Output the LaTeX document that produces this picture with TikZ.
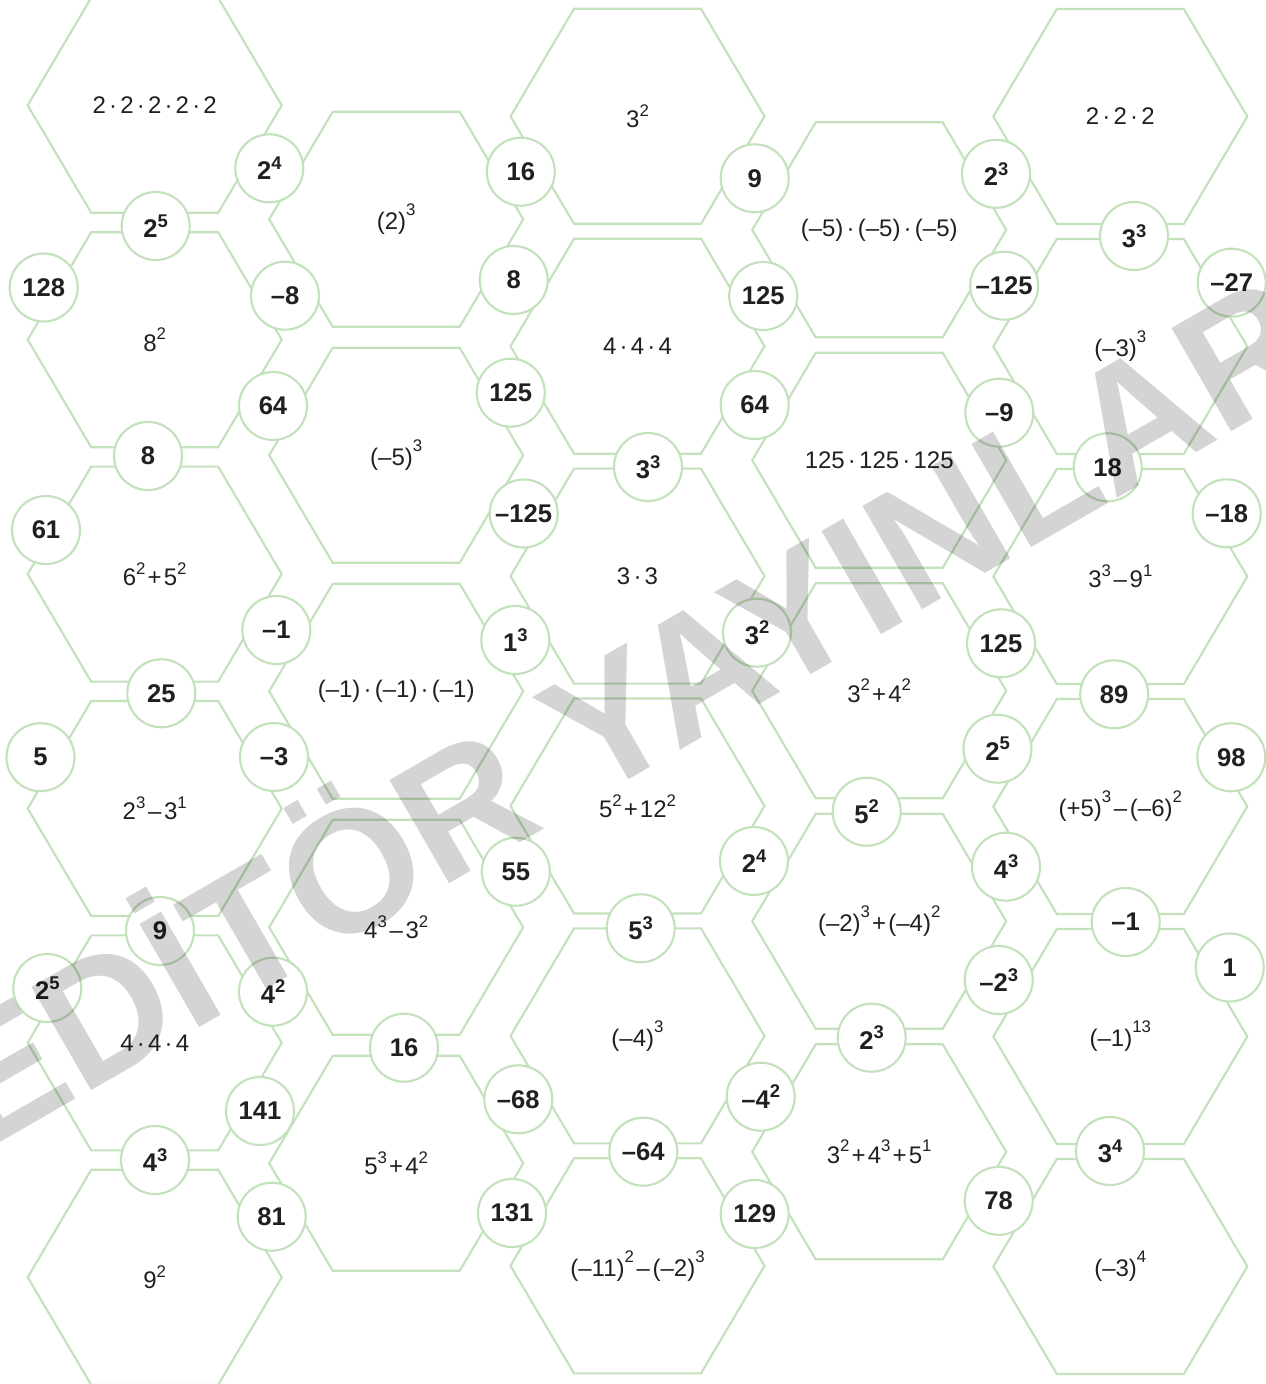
\documentclass[tikz,border=0pt]{standalone}
\usepackage{fontspec}
\setmainfont{Liberation Sans}
\definecolor{hexgreen}{RGB}{196,225,189}
\definecolor{ink}{RGB}{35,31,32}
\newcommand\cs[1]{\raisebox{7.8pt}{\fontsize{13.8}{14}\selectfont\bfseries #1}}
\newcommand\hs[1]{\raisebox{8.4pt}{\fontsize{12.6}{13}\selectfont #1}}
\newcommand\hp[1]{\raisebox{10.4pt}{\fontsize{12.6}{13}\selectfont #1}}
\newcommand\md{\hspace{2.4pt}·\hspace{2.4pt}}
\newcommand\mi{\hspace{2pt}–\hspace{2pt}}
\newcommand\pl{\hspace{1.6pt}+\hspace{1.6pt}}
\newcommand\hexcell[4]{%
  \draw[hexline] (#2-127,#3) -- ++(63.5,-107.5) -- ++(127,0) -- ++(63.5,107.5) -- ++(-63.5,107.5) -- ++(-127,0) -- cycle;
  \node[hexlabel] (#1) at (#2,#3) {#4};}
\begin{document}
\begin{tikzpicture}[x=0.75pt,y=-0.75pt,
  hexline/.style={draw=hexgreen,line width=1.6pt,line join=miter},
  hexlabel/.style={font=\fontsize{18}{20}\selectfont,text=ink,inner sep=0pt},
  numcirc/.style={circle,draw=hexgreen,line width=1.6pt,fill=white,minimum size=51pt,inner sep=0pt,font=\fontsize{19.2}{20}\selectfont\bfseries,text=ink},
  watermark/.style={rotate=30,anchor=base west,inner sep=0pt,text=black,text opacity=0.17,font=\fontsize{130}{130}\selectfont\bfseries}]
\useasboundingbox (0,0) rectangle (1266,1384);
\clip (0,0) rectangle (1266,1384);
\fill[white] (0,0) rectangle (1266,1384);
% column 1
\hexcell{h11}{154.7}{105.3}{2\md2\md2\md2\md2}
\hexcell{h12}{154.7}{339.7}{8\hs{2}}
\hexcell{h13}{154.7}{574.1}{6\hs{2}\pl5\hs{2}}
\hexcell{h14}{154.7}{808.5}{2\hs{3}\mi3\hs{1}}
\hexcell{h15}{154.7}{1042.9}{4\md4\md4}
\hexcell{h16}{154.7}{1277.3}{9\hs{2}}
% column 2
\hexcell{h21}{396.2}{219.3}{(2)\hp{3}}
\hexcell{h22}{396.2}{455.3}{(–5)\hp{3}}
\hexcell{h23}{396.2}{691.3}{(–1)\md(–1)\md(–1)}
\hexcell{h24}{396.2}{927.3}{4\hs{3}\mi3\hs{2}}
\hexcell{h25}{396.2}{1163.3}{5\hs{3}\pl4\hs{2}}
% column 3
\hexcell{h31}{637.5}{116.3}{3\hs{2}}
\hexcell{h32}{637.5}{346.2}{4\md4\md4}
\hexcell{h33}{637.5}{576.1}{3\md3}
\hexcell{h34}{637.5}{806.0}{5\hs{2}\pl12\hs{2}}
\hexcell{h35}{637.5}{1035.9}{(–4)\hp{3}}
\hexcell{h36}{637.5}{1265.8}{(–11)\hp{2}\mi(–2)\hp{3}}
% column 4
\hexcell{h41}{879.2}{229.8}{(–5)\md(–5)\md(–5)}
\hexcell{h42}{879.2}{460.3}{125\md125\md125}
\hexcell{h43}{879.2}{690.8}{3\hs{2}\pl4\hs{2}}
\hexcell{h44}{879.2}{921.3}{(–2)\hp{3}\pl(–4)\hp{2}}
\hexcell{h45}{879.2}{1151.8}{3\hs{2}\pl4\hs{3}\pl5\hs{1}}
% column 5
\hexcell{h51}{1120.3}{116.5}{2\md2\md2}
\hexcell{h52}{1120.3}{346.5}{(–3)\hp{3}}
\hexcell{h53}{1120.3}{576.5}{3\hs{3}\mi9\hs{1}}
\hexcell{h54}{1120.3}{806.5}{(+5)\hp{3}\mi(–6)\hp{2}}
\hexcell{h55}{1120.3}{1036.5}{(–1)\hp{13}}
\hexcell{h56}{1120.3}{1266.5}{(–3)\hp{4}}
% circles
\node[numcirc] (c1) at (269.3,168.3) {2\cs{4}};
\node[numcirc] (c2) at (155.7,226) {2\cs{5}};
\node[numcirc] (c3) at (43.7,287.5) {128};
\node[numcirc] (c4) at (285,295.7) {–8};
\node[numcirc] (c5) at (520.8,171.7) {16};
\node[numcirc] (c6) at (513.7,280) {8};
\node[numcirc] (c7) at (510.8,392.7) {125};
\node[numcirc] (c8) at (754.7,178.3) {9};
\node[numcirc] (c9) at (996,173.8) {2\cs{3}};
\node[numcirc] (c10) at (763.2,296) {125};
\node[numcirc] (c11) at (1004.2,285.7) {–125};
\node[numcirc] (c12) at (1134,236) {3\cs{3}};
\node[numcirc] (c13) at (1231.7,282.7) {–27};
\node[numcirc] (c14) at (273,406) {64};
\node[numcirc] (c15) at (754.7,405) {64};
\node[numcirc] (c16) at (999.3,412.7) {–9};
\node[numcirc] (c17) at (148,456) {8};
\node[numcirc] (c18) at (648,467) {3\cs{3}};
\node[numcirc] (c19) at (1107.7,467.3) {18};
\node[numcirc] (c20) at (1226.7,513.3) {–18};
\node[numcirc] (c21) at (523.7,513.5) {–125};
\node[numcirc] (c22) at (46,530) {61};
\node[numcirc] (c23) at (276.3,630) {–1};
\node[numcirc] (c24) at (515.3,640) {1\cs{3}};
\node[numcirc] (c25) at (757,632.7) {3\cs{2}};
\node[numcirc] (c26) at (1001,643.3) {125};
\node[numcirc] (c27) at (161.3,693.3) {25};
\node[numcirc] (c28) at (1114.2,694.3) {89};
\node[numcirc] (c29) at (40.5,757.2) {5};
\node[numcirc] (c30) at (274,757) {–3};
\node[numcirc] (c31) at (1231.3,757.3) {98};
\node[numcirc] (c32) at (997.5,748.7) {2\cs{5}};
\node[numcirc] (c33) at (866.7,811.7) {5\cs{2}};
\node[numcirc] (c34) at (515.8,871.7) {55};
\node[numcirc] (c35) at (754,861) {2\cs{4}};
\node[numcirc] (c36) at (1006,866.7) {4\cs{3}};
\node[numcirc] (c37) at (160,931) {9};
\node[numcirc] (c38) at (640.7,928.3) {5\cs{3}};
\node[numcirc] (c39) at (1125.7,922) {–1};
\node[numcirc] (c40) at (47.3,988) {2\cs{5}};
\node[numcirc] (c41) at (273,991.7) {4\cs{2}};
\node[numcirc] (c42) at (998.7,980) {–2\cs{3}};
\node[numcirc] (c43) at (1229.7,967.5) {1};
\node[numcirc] (c44) at (404,1047.7) {16};
\node[numcirc] (c45) at (871.7,1037.7) {2\cs{3}};
\node[numcirc] (c46) at (518.3,1099.3) {–68};
\node[numcirc] (c47) at (760.7,1096.7) {–4\cs{2}};
\node[numcirc] (c48) at (260,1111) {141};
\node[numcirc] (c49) at (155,1160) {4\cs{3}};
\node[numcirc] (c50) at (643.3,1151.7) {–64};
\node[numcirc] (c51) at (1110,1151) {3\cs{4}};
\node[numcirc] (c52) at (271.7,1216.7) {81};
\node[numcirc] (c53) at (512,1213) {131};
\node[numcirc] (c54) at (754.7,1214) {129};
\node[numcirc] (c55) at (998.7,1200.8) {78};
% watermark
\node[watermark] (wm) at (-19,1154) {EDİTÖR YAYINLARI};
\end{tikzpicture}
\end{document}
